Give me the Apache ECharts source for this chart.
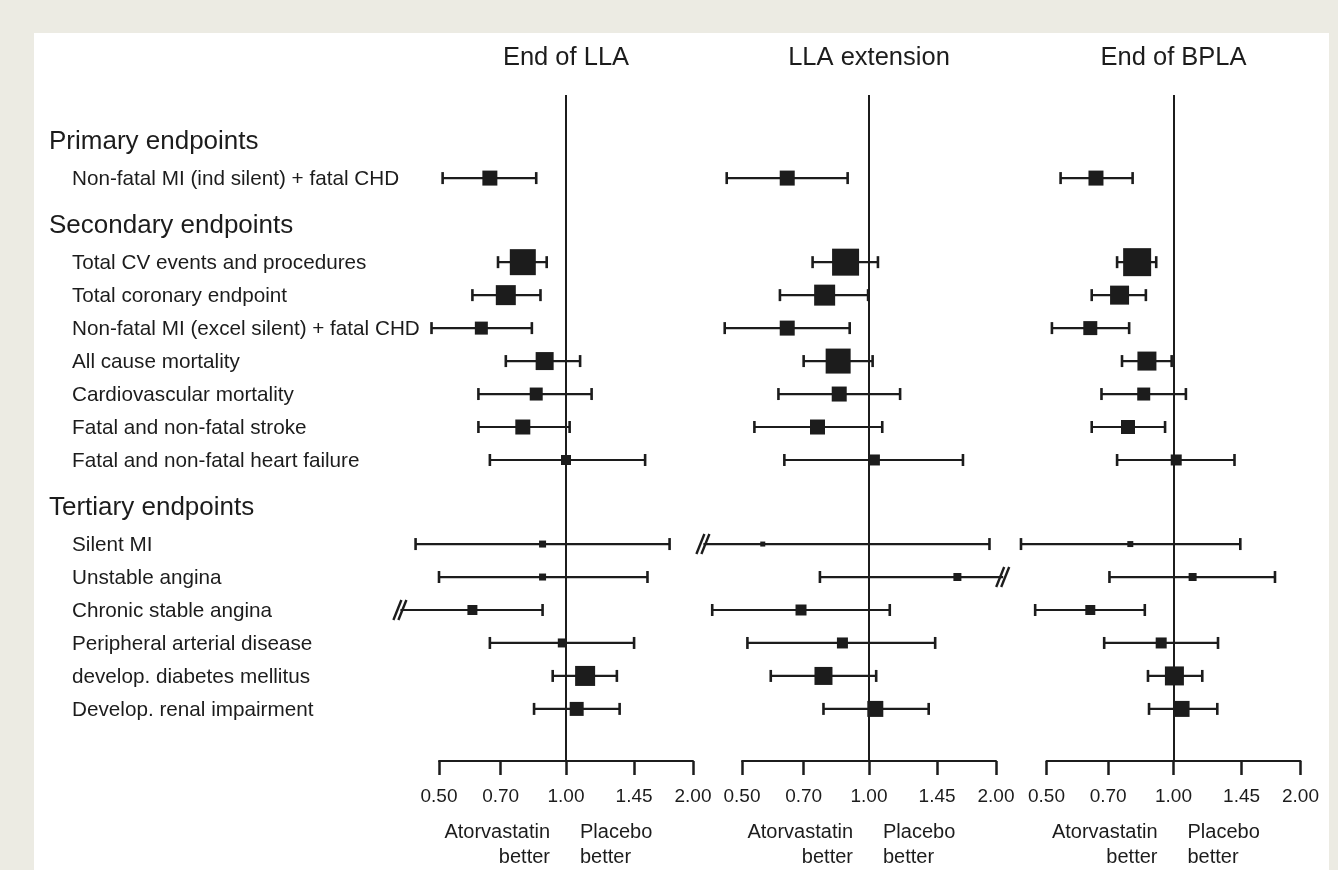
<!DOCTYPE html>
<html><head><meta charset="utf-8">
<script src="https://cdn.jsdelivr.net/npm/echarts@6/dist/echarts.min.js"></script>
<style>
html,body{margin:0;padding:0;background:#ecebe3;overflow:hidden;}
#frame{position:absolute;left:34px;top:33px;width:1295px;height:837px;background:#fff;}
#chart{position:absolute;left:0;top:0;width:1338px;height:870px;}
</style></head><body><div id="frame"></div><div id="chart"></div>
<script>
// ---------------- data ----------------
const PANELS = ['End of LLA', 'LLA extension', 'End of BPLA'];
const SECTIONS = ['Primary endpoints', 'Secondary endpoints', 'Tertiary endpoints'];
const ENDPOINTS = [
  'Non-fatal MI (ind silent) + fatal CHD',
  'Total CV events and procedures',
  'Total coronary endpoint',
  'Non-fatal MI (excel silent) + fatal CHD',
  'All cause mortality',
  'Cardiovascular mortality',
  'Fatal and non-fatal stroke',
  'Fatal and non-fatal heart failure',
  'Silent MI',
  'Unstable angina',
  'Chronic stable angina',
  'Peripheral arterial disease',
  'develop. diabetes mellitus',
  'Develop. renal impairment'
];
const SECTION_OF = [0, 1, 1, 1, 1, 1, 1, 1, 2, 2, 2, 2, 2, 2];
const TICK_VALUES = [0.5, 0.7, 1, 1.45, 2];
const TICK_LABELS = ['0.50', '0.70', '1.00', '1.45', '2.00'];
const LEFT_NOTE = ['Atorvastatin', 'better'];
const RIGHT_NOTE = ['Placebo', 'better'];

// End of LLA (null = beyond the axis, drawn with a break mark)
const LLA_HR = [0.66, 0.79, 0.72, 0.63, 0.89, 0.85, 0.79, 1.00, 0.88, 0.88, 0.60, 0.98, 1.11, 1.06];
const LLA_LO = [0.51, 0.69, 0.60, 0.48, 0.72, 0.62, 0.62, 0.66, 0.44, 0.50, null, 0.66, 0.93, 0.84];
const LLA_HI = [0.85, 0.90, 0.87, 0.83, 1.08, 1.15, 1.02, 1.54, 1.76, 1.56, 0.88, 1.45, 1.32, 1.34];
const LLA_WEIGHT = [15, 26, 20, 13, 18, 13, 15, 10, 7, 7, 10, 9, 20, 14];

// LLA extension
const EXT_HR = [0.64, 0.88, 0.785, 0.64, 0.845, 0.85, 0.755, 1.03, 0.56, 1.62, 0.69, 0.865, 0.78, 1.035];
const EXT_LO = [0.46, 0.735, 0.615, 0.455, 0.70, 0.61, 0.535, 0.63, null, 0.765, 0.425, 0.515, 0.585, 0.78];
const EXT_HI = [0.89, 1.05, 0.995, 0.90, 1.02, 1.185, 1.075, 1.67, 1.93, null, 1.12, 1.435, 1.04, 1.385];
const EXT_WEIGHT = [15, 27, 21, 15, 25, 15, 15, 11, 5, 8, 11, 11, 18, 16];

// End of BPLA
const BPLA_HR = [0.655, 0.82, 0.745, 0.635, 0.865, 0.85, 0.78, 1.015, 0.79, 1.11, 0.635, 0.935, 1.005, 1.045];
const BPLA_LO = [0.54, 0.735, 0.64, 0.515, 0.755, 0.675, 0.64, 0.735, 0.435, 0.705, 0.47, 0.685, 0.87, 0.875];
const BPLA_HI = [0.80, 0.91, 0.86, 0.785, 0.99, 1.07, 0.955, 1.395, 1.44, 1.74, 0.855, 1.275, 1.17, 1.27];
const BPLA_WEIGHT = [15, 28, 19, 14, 19, 13, 14, 11, 6, 8, 10, 11, 19, 16];

const BREAK_LO = 0.405;   // where an off-scale interval is cut
const BREAK_HI = 2.08;

// ---------------- layout / style ----------------
const INK = '#1c1c1c';
const FONT = "'Liberation Sans', Arial, Helvetica, sans-serif";
const GRID_TOP = 95, GRID_H = 666, GRID_W = 254;
const GRID_LEFTS = [439, 742, 1046.5];
const Y_MIN = -1.42, Y_MAX = 18.78;

// row positions (in row units)
const rowY = [], headerY = [];
(function () {
  let y = 0, prev = -1;
  ENDPOINTS.forEach(function (n, i) {
    const s = SECTION_OF[i];
    if (s !== prev) {
      if (prev >= 0) y += 1.45;
      headerY[s] = y; y += 1.1; prev = s;
    } else { y += 1; }
    rowY[i] = y;
  });
})();

const PANEL_DATA = [
  [LLA_HR, LLA_LO, LLA_HI, LLA_WEIGHT],
  [EXT_HR, EXT_LO, EXT_HI, EXT_WEIGHT],
  [BPLA_HR, BPLA_LO, BPLA_HI, BPLA_WEIGHT]
];

function forestItem(params, api) {
  const y = api.value(3);
  const a = api.coord([api.value(0), y]);
  const b = api.coord([api.value(1), y]);
  const c = api.coord([api.value(2), y]);
  const w = api.value(4);
  const loOff = api.value(5) === 1, hiOff = api.value(6) === 1;
  const yy = c[1];
  const kids = [{ type: 'line', shape: { x1: a[0], y1: yy, x2: b[0], y2: yy }, style: { stroke: INK, lineWidth: 2.2 } }];
  function cap(x) { return { type: 'line', shape: { x1: x, y1: yy - 6, x2: x, y2: yy + 6 }, style: { stroke: INK, lineWidth: 2.6 } }; }
  function brk(x) {
    return { type: 'group', children: [
      { type: 'line', shape: { x1: x - 7, y1: yy + 10, x2: x + 1, y2: yy - 10 }, style: { stroke: INK, lineWidth: 2.4 } },
      { type: 'line', shape: { x1: x - 2, y1: yy + 10, x2: x + 6, y2: yy - 10 }, style: { stroke: INK, lineWidth: 2.4 } }
    ] };
  }
  kids.push(loOff ? brk(a[0]) : cap(a[0]));
  kids.push(hiOff ? brk(b[0]) : cap(b[0]));
  kids.push({ type: 'rect', shape: { x: c[0] - w / 2, y: yy - w / 2, width: w, height: w }, style: { fill: INK } });
  return { type: 'group', children: kids };
}

const grids = [], xAxes = [], yAxes = [], series = [], graphics = [];
PANEL_DATA.forEach(function (pd, p) {
  grids.push({ left: GRID_LEFTS[p], top: GRID_TOP, width: GRID_W, height: GRID_H, containLabel: false, outerBoundsMode: 'none' });
  xAxes.push({
    gridIndex: p, type: 'log', logBase: 10, min: 0.5, max: 2, position: 'bottom',
    axisLine: { show: true, onZero: false, lineStyle: { color: INK, width: 2 } },
    axisTick: { show: true, customValues: TICK_VALUES, length: 14, lineStyle: { color: INK, width: 2.5 } },
    axisLabel: {
      show: true, customValues: TICK_VALUES, margin: 26, color: INK, fontSize: 19, fontFamily: FONT,
      formatter: function (v) {
        let best = 0;
        TICK_VALUES.forEach(function (t, k) { if (Math.abs(t - v) < Math.abs(TICK_VALUES[best] - v)) best = k; });
        return TICK_LABELS[best];
      }
    },
    splitLine: { show: false }, minorTick: { show: false }
  });
  yAxes.push({ gridIndex: p, type: 'value', min: Y_MIN, max: Y_MAX, inverse: true, show: false });
  const hr = pd[0], lo = pd[1], hi = pd[2], wt = pd[3];
  const data = hr.map(function (v, i) {
    return [lo[i] == null ? BREAK_LO : lo[i], hi[i] == null ? BREAK_HI : hi[i], v, rowY[i], wt[i],
            lo[i] == null ? 1 : 0, hi[i] == null ? 1 : 0];
  });
  series.push({
    type: 'custom', xAxisIndex: p, yAxisIndex: p, clip: false, silent: true,
    encode: { x: [0, 1, 2], y: 3 }, data: data, renderItem: forestItem,
    markLine: { silent: true, symbol: ['none', 'none'], label: { show: false },
      lineStyle: { color: INK, width: 2, type: 'solid' }, data: [{ xAxis: 1 }] },
    z: 3
  });
  const cx = GRID_LEFTS[p] + GRID_W / 2;
  graphics.push({ type: 'text', x: cx, y: 58, style: { text: PANELS[p], fill: INK, font: '25.5px ' + FONT, align: 'center', verticalAlign: 'middle' } });
  graphics.push({ type: 'text', x: cx - 16, y: 832, style: { text: LEFT_NOTE[0], fill: INK, font: '20px ' + FONT, align: 'right', verticalAlign: 'middle' } });
  graphics.push({ type: 'text', x: cx - 16, y: 857, style: { text: LEFT_NOTE[1], fill: INK, font: '20px ' + FONT, align: 'right', verticalAlign: 'middle' } });
  graphics.push({ type: 'text', x: cx + 14, y: 832, style: { text: RIGHT_NOTE[0], fill: INK, font: '20px ' + FONT, align: 'left', verticalAlign: 'middle' } });
  graphics.push({ type: 'text', x: cx + 14, y: 857, style: { text: RIGHT_NOTE[1], fill: INK, font: '20px ' + FONT, align: 'left', verticalAlign: 'middle' } });
});

// label column
grids.push({ left: 49, top: GRID_TOP, width: 380, height: GRID_H, containLabel: false, outerBoundsMode: 'none' });
xAxes.push({ gridIndex: 3, type: 'value', min: 0, max: 1, show: false });
yAxes.push({ gridIndex: 3, type: 'value', min: Y_MIN, max: Y_MAX, inverse: true, show: false });
const labelRows = [];
SECTIONS.forEach(function (s, k) { labelRows.push({ text: s, y: headerY[k], header: true }); });
ENDPOINTS.forEach(function (s, i) { labelRows.push({ text: s, y: rowY[i], header: false }); });
series.push({
  type: 'custom', xAxisIndex: 3, yAxisIndex: 3, silent: true, clip: false,
  encode: { x: 0, y: 1 },
  data: labelRows.map(function (r) { return [0, r.y]; }),
  renderItem: function (params, api) {
    const r = labelRows[params.dataIndex];
    const pt = api.coord([api.value(0), api.value(1)]);
    return { type: 'text', x: pt[0] + (r.header ? 0 : 23), y: pt[1] + (r.header ? 0 : 1.5),
      style: { text: r.text, fill: INK, font: (r.header ? '26px ' : '20.7px ') + FONT, align: 'left', verticalAlign: 'middle' } };
  }
});

const chart = echarts.init(document.getElementById('chart'), null, { renderer: 'canvas' });
chart.setOption({
  backgroundColor: 'transparent', animation: false,
  grid: grids, xAxis: xAxes, yAxis: yAxes, series: series, graphic: graphics
});
</script></body></html>
